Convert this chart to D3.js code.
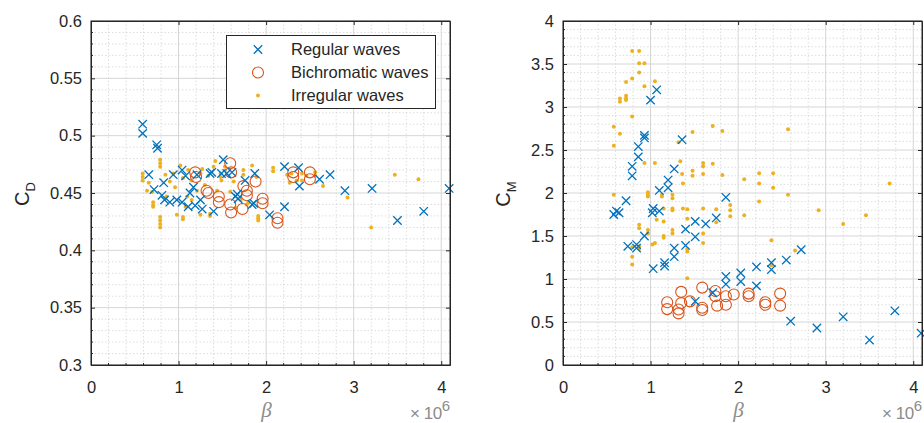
<!DOCTYPE html>
<meta charset="utf-8">
<script src="https://d3js.org/d3.v7.min.js"></script>
<style>
    body { margin: 0; background: #fff; }
    svg { display: block; font-family: "Liberation Sans", Arial, sans-serif; }
    .tick text { fill: #262626; font-size: 16.5px; }
    .axis path, .axis line { stroke: #262626; }
</style>
<body>
<svg id="fig" width="924" height="423"></svg>
<script>
"use strict"

// beta values are in units of 1e6

// --- left panel : C_D ---
var regBetaD = [0.59,0.59,0.75,0.76,0.66,0.72,0.83,0.81,0.84,0.94,0.90,0.98,1.04,1.04,1.08,1.11,1.13,1.17,1.21,1.19,
                1.27,1.25,1.36,1.38,1.40,1.49,1.51,1.55,1.61,1.65,1.67,1.68,1.76,1.84,1.86,1.87,2.04,2.21,2.21,2.37,
                2.38,2.61,2.73,2.90,3.21,3.50,3.80,4.09]
var regCD    = [0.510,0.502,0.492,0.489,0.466,0.453,0.459,0.448,0.444,0.466,0.442,0.444,0.470,0.442,0.465,0.438,0.450,0.455,0.466,0.439,
                0.436,0.444,0.467,0.468,0.434,0.467,0.479,0.467,0.468,0.447,0.449,0.445,0.461,0.440,0.441,0.467,0.431,0.438,0.473,0.472,
                0.456,0.462,0.466,0.452,0.454,0.426,0.434,0.454]

var bicBetaD = [1.19,1.20,1.32,1.34,1.46,1.46,1.59,1.59,1.60,1.73,1.74,1.78,1.78,1.88,1.96,1.96,2.13,2.13,2.31,2.31,2.50,2.50,1.60]
var bicCD    = [0.468,0.464,0.452,0.450,0.447,0.442,0.476,0.440,0.433,0.436,0.456,0.452,0.448,0.460,0.445,0.441,0.428,0.424,0.468,0.464,0.468,0.462,0.468]

var irrBetaD = [0.59,0.59,0.59,0.64,0.66,0.71,0.71,0.71,0.79,0.79,0.79,0.79,0.79,0.79,0.79,0.85,0.86,0.90,0.94,0.96,
                0.98,1.02,1.05,1.05,1.05,1.08,1.10,1.11,1.15,1.15,1.21,1.25,1.25,1.27,1.30,1.34,1.36,1.36,1.40,1.42,
                1.44,1.48,1.48,1.49,1.53,1.59,1.63,1.65,1.71,1.74,1.74,1.78,1.80,1.84,1.89,1.91,1.91,1.91,2.08,2.08,
                2.24,2.27,2.29,2.35,2.41,2.41,2.46,2.56,2.56,2.65,2.93,3.20,3.47,3.74,0.70]
var irrCD    = [0.467,0.464,0.461,0.452,0.459,0.442,0.439,0.438,0.479,0.476,0.473,0.429,0.426,0.423,0.420,0.466,0.447,0.460,0.467,0.455,
                0.431,0.474,0.463,0.429,0.427,0.438,0.447,0.470,0.461,0.444,0.452,0.431,0.467,0.471,0.457,0.465,0.432,0.430,0.473,0.478,
                0.452,0.467,0.464,0.461,0.473,0.451,0.460,0.437,0.444,0.470,0.466,0.440,0.442,0.474,0.464,0.430,0.428,0.426,0.472,0.469,
                0.466,0.459,0.467,0.461,0.467,0.461,0.465,0.468,0.465,0.456,0.446,0.420,0.466,0.462,0.451]

// --- right panel : C_M ---
var regBetaM = [0.58,0.61,0.64,0.72,0.74,0.79,0.79,0.86,0.86,0.84,0.84,0.93,0.93,0.93,1.00,1.07,1.03,1.02,1.03,1.10,
                1.10,1.20,1.20,1.16,1.16,1.27,1.27,1.27,1.36,1.40,1.40,1.51,1.51,1.63,1.75,1.86,1.51,1.71,1.86,1.86,
                2.03,2.03,2.21,2.21,2.38,2.38,2.55,2.72,2.60,2.90,3.20,3.50,3.79,4.09]
var regCM    = [1.75,1.79,1.77,1.91,1.38,2.20,2.31,2.42,2.54,1.36,1.40,2.67,2.64,1.50,3.08,3.20,1.82,1.77,1.12,2.03,
                1.79,2.15,2.06,1.19,1.15,2.28,1.36,1.26,2.62,1.58,1.39,1.67,1.49,1.64,1.71,1.95,0.74,0.84,1.03,0.94,
                1.07,0.97,1.14,0.92,1.19,1.11,1.22,1.34,0.51,0.43,0.56,0.29,0.63,0.37]

var bicBetaM = [1.19,1.19,1.32,1.32,1.35,1.35,1.45,1.59,1.59,1.59,1.74,1.74,1.76,1.86,1.86,1.95,2.12,2.12,2.31,2.31,2.48,2.48]
var bicCM    = [0.73,0.65,0.645,0.60,0.85,0.72,0.74,0.90,0.665,0.64,0.86,0.80,0.69,0.80,0.70,0.82,0.83,0.80,0.73,0.70,0.83,0.69]

var irrBetaM = [0.58,0.58,0.58,0.65,0.65,0.65,0.72,0.72,0.72,0.72,0.79,0.79,0.79,0.79,0.79,0.79,0.87,0.87,0.87,0.87,
                0.87,0.87,0.87,0.93,0.93,0.93,0.97,0.97,0.97,0.97,0.97,1.02,1.05,1.05,1.05,1.07,1.13,1.13,1.15,1.15,
                1.15,1.15,1.25,1.25,1.25,1.25,1.25,1.25,1.32,1.34,1.36,1.37,1.37,1.42,1.42,1.42,1.42,1.42,1.48,1.48,
                1.48,1.60,1.60,1.60,1.60,1.60,1.60,1.71,1.71,1.75,1.75,1.82,1.82,1.91,1.91,1.91,2.07,2.07,2.24,2.24,
                2.24,2.40,2.40,2.38,2.38,2.57,2.57,2.65,2.92,3.20,3.46,3.73]
var irrCM    = [2.77,2.55,1.98,2.69,3.10,3.06,3.29,3.13,3.10,3.08,3.65,3.33,2.89,1.37,1.26,1.17,3.65,3.51,3.40,1.63,
                1.59,1.38,1.35,3.51,3.24,2.35,2.01,1.98,1.96,1.57,1.53,1.40,3.30,2.35,1.42,1.69,1.98,1.96,1.82,1.67,
                1.50,1.48,1.98,1.94,1.82,1.80,1.57,1.53,2.59,2.37,2.22,2.11,1.82,1.81,1.70,1.35,1.32,1.01,2.71,2.26,
                2.20,2.35,2.31,2.22,1.82,1.53,1.42,2.78,2.34,1.81,1.66,2.72,2.21,1.86,1.80,1.73,2.16,1.74,2.23,2.11,
                1.90,2.23,2.06,1.45,1.16,2.74,1.98,1.33,1.80,1.64,1.74,2.11]

var xTicks  = [0, 1, 2, 3, 4]
var yTicksD = [0.3, 0.35, 0.4, 0.45, 0.5, 0.55, 0.6]
var yTicksM = [0, 0.5, 1, 1.5, 2, 2.5, 3, 3.5, 4]
var legendLabels = ["Regular waves", "Bichromatic waves", "Irregular waves"]

var BLUE = "#0072BD", ORANGE = "#D95319", YELLOW = "#EDB120"

var svg = d3.select("#fig")

function zip(a, b){ return a.map(function(v, i){ return [v, b[i]] }) }

function xMark(sel, s){
    sel.attr("d", "M" + (-s) + "," + (-s) + "L" + s + "," + s + "M" + (-s) + "," + s + "L" + s + "," + (-s))
       .attr("fill", "none").attr("stroke", BLUE).attr("stroke-width", 1.3)
}

function panel(o){
    var g = svg.append("g")
    var x = d3.scaleLinear().domain([0, 4.1]).range([o.left, o.right])
    var y = d3.scaleLinear().domain(o.ydom).range([365, 21])
    var h = 365 - 21, w = o.right - o.left

    // minor grid
    var xMinor = d3.range(0, 4.1, 0.2).filter(function(v){ return Math.abs(v - Math.round(v)) > 1e-6 })
    var yMinor = d3.range(o.ydom[0], o.ydom[1] + 1e-9, o.minor).filter(function(v){
        return Math.abs(v / o.major - Math.round(v / o.major)) > 1e-6 })
    g.selectAll(".vminor").data(xMinor).enter().append("line")
        .attr("x1", x).attr("x2", x).attr("y1", 21).attr("y2", 365)
        .attr("stroke", "#d4d4d4").attr("stroke-dasharray", "1.5,2").attr("stroke-width", 0.8)
    g.selectAll(".hminor").data(yMinor).enter().append("line")
        .attr("y1", y).attr("y2", y).attr("x1", o.left).attr("x2", o.right)
        .attr("stroke", "#d4d4d4").attr("stroke-dasharray", "1.5,2").attr("stroke-width", 0.8)
    // major grid
    g.selectAll(".vmajor").data(xTicks).enter().append("line")
        .attr("x1", x).attr("x2", x).attr("y1", 21).attr("y2", 365)
        .attr("stroke", "#d6d6d6").attr("stroke-width", 1)
    g.selectAll(".hmajor").data(o.yticks).enter().append("line")
        .attr("y1", y).attr("y2", y).attr("x1", o.left).attr("x2", o.right)
        .attr("stroke", "#d6d6d6").attr("stroke-width", 1)

    // markers
    var pts = g.append("g")
    pts.selectAll(".irr").data(zip(o.irr[0], o.irr[1])).enter().append("circle")
        .attr("cx", function(d){ return x(d[0]) }).attr("cy", function(d){ return y(d[1]) })
        .attr("r", 2).attr("fill", YELLOW)
    pts.selectAll(".bic").data(zip(o.bic[0], o.bic[1])).enter().append("circle")
        .attr("cx", function(d){ return x(d[0]) }).attr("cy", function(d){ return y(d[1]) })
        .attr("r", 5.5).attr("fill", "none").attr("stroke", ORANGE).attr("stroke-width", 1.1)
    pts.selectAll(".reg").data(zip(o.reg[0], o.reg[1])).enter().append("path")
        .attr("transform", function(d){ return "translate(" + x(d[0]) + "," + y(d[1]) + ")" })
        .call(xMark, 4.2)

    // axes
    var fmt = function(d){ return String(+d.toFixed(2)) }
    g.append("g").attr("class", "axis").attr("transform", "translate(0,365)")
        .call(d3.axisBottom(x).tickValues(xTicks).tickFormat(fmt).tickSizeInner(-4).tickSizeOuter(0).tickPadding(16))
    g.append("g").attr("class", "axis").attr("transform", "translate(0,21)")
        .call(d3.axisTop(x).tickValues(xTicks).tickFormat("").tickSizeInner(-4).tickSizeOuter(0))
    g.append("g").attr("class", "axis").attr("transform", "translate(" + o.left + ",0)")
        .call(d3.axisLeft(y).tickValues(o.yticks).tickFormat(fmt).tickSizeInner(-4).tickSizeOuter(0).tickPadding(9))
    g.append("g").attr("class", "axis").attr("transform", "translate(" + o.right + ",0)")
        .call(d3.axisRight(y).tickValues(o.yticks).tickFormat("").tickSizeInner(-4).tickSizeOuter(0))
    // minor ticks
    g.selectAll(".mtb").data(xMinor).enter().append("line")
        .attr("x1", x).attr("x2", x).attr("y1", 365).attr("y2", 363).attr("stroke", "#262626")
    g.selectAll(".mtl").data(yMinor).enter().append("line")
        .attr("y1", y).attr("y2", y).attr("x1", o.left).attr("x2", o.left + 2).attr("stroke", "#262626")
    g.selectAll("text").attr("font-family", null).attr("font-size", null)
    g.append("rect").attr("x", o.left).attr("y", 21).attr("width", w).attr("height", h)
        .attr("fill", "none").attr("stroke", "#262626").attr("stroke-width", 1)

    // labels
    g.append("text").attr("x", x(2.05) - 4).attr("y", 417).attr("text-anchor", "middle")
        .attr("font-family", "Liberation Serif, serif").attr("font-style", "italic")
        .attr("font-size", 21).attr("fill", "#8c8c8c").text("\u03b2")
    var e = g.append("text").attr("x", o.right).attr("y", 419).attr("text-anchor", "end")
        .attr("font-size", 17).attr("fill", "#8c8c8c")
    e.append("tspan").text("\u00d7 10").attr("letter-spacing", -0.5)
    e.append("tspan").attr("dy", -8.5).attr("font-size", 15).text("6")
    var yl = g.append("text").attr("transform", "translate(" + o.ylabX + ",194) rotate(-90)")
        .attr("text-anchor", "middle").attr("font-size", 20).attr("fill", "#262626")
    yl.append("tspan").text("C")
    yl.append("tspan").attr("dy", 6).attr("font-size", 13).text(o.sub)
    return g
}

panel({left: 91, right: 450, ydom: [0.3, 0.6], yticks: yTicksD, major: 0.05, minor: 0.01,
       reg: [regBetaD, regCD], bic: [bicBetaD, bicCD], irr: [irrBetaD, irrCD], ylabX: 29, sub: "D"})
panel({left: 563, right: 922, ydom: [0, 4], yticks: yTicksM, major: 0.5, minor: 0.1,
       reg: [regBetaM, regCM], bic: [bicBetaM, bicCM], irr: [irrBetaM, irrCM], ylabX: 510, sub: "M"})

// legend (left panel)
var lg = svg.append("g")
lg.append("rect").attr("x", 226.5).attr("y", 35.5).attr("width", 209).attr("height", 73)
    .attr("fill", "#fff").attr("stroke", "#262626").attr("stroke-width", 1)
var ly = d3.scalePoint().domain(legendLabels).range([49.5, 95.5])
lg.selectAll(".lt").data(legendLabels).enter().append("text")
    .attr("x", 291).attr("y", function(d){ return ly(d) }).attr("dy", "0.35em")
    .attr("font-size", 16.5).attr("fill", "#262626").text(function(d){ return d })
lg.append("path").attr("transform", "translate(258," + ly(legendLabels[0]) + ")").call(xMark, 4.2)
lg.append("circle").attr("cx", 258).attr("cy", ly(legendLabels[1])).attr("r", 5.5)
    .attr("fill", "none").attr("stroke", ORANGE).attr("stroke-width", 1.1)
lg.append("circle").attr("cx", 258).attr("cy", ly(legendLabels[2])).attr("r", 2).attr("fill", YELLOW)
</script>
</body>
